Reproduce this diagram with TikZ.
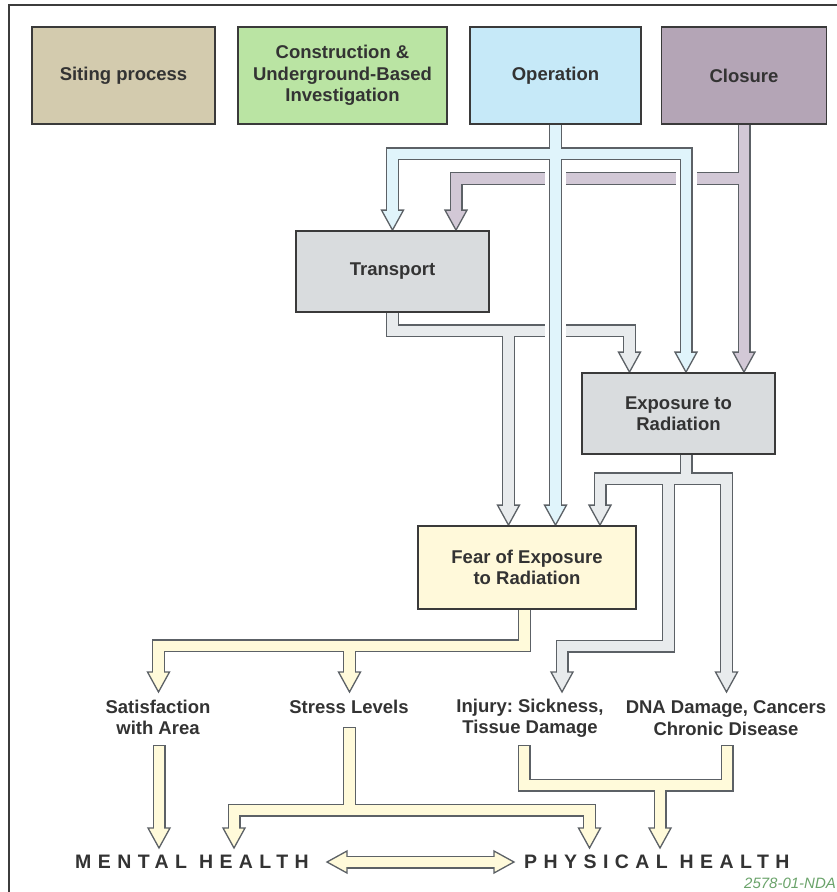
\documentclass[tikz,border=0pt]{standalone}
\usepackage{fontspec}
\setmainfont{Liberation Sans}
\usetikzlibrary{calc}
\pgfdeclarelayer{flow}
\pgfsetlayers{flow,main}
\frenchspacing

\definecolor{ink}{HTML}{333333}
\definecolor{boxline}{HTML}{3A3A3A}
\definecolor{frameline}{HTML}{3C3C3C}
\definecolor{arrline}{HTML}{5C6166}
\definecolor{sitefill}{HTML}{D3CBAE}
\definecolor{consfill}{HTML}{BAE4A3}
\definecolor{opfill}{HTML}{C6E9F8}
\definecolor{clfill}{HTML}{B4A5B6}
\definecolor{grayfill}{HTML}{D9DCDE}
\definecolor{fearfill}{HTML}{FFF9DA}
\definecolor{bflow}{HTML}{E0F4FB}
\definecolor{cflow}{HTML}{D2C8D6}
\definecolor{gflow}{HTML}{E8EBED}
\definecolor{yflow}{HTML}{FFFADA}
\definecolor{codegreen}{HTML}{6AA36A}

% Paths of the broad hollow connectors; #1 = how far the shaft stops short of its tip,
% #2 = how far the fill of a free start is inset from its outline
\newcommand\opflow[1]{(op.south) -- ($(opT1)-(0,#1)$) ($(opT2)-(0,#1)$) -- (opT2 |- opJ) -- (opT3 |- opJ) -- ($(opT3)-(0,#1)$)}
\newcommand\clflow[1]{(cl.south) -- ($(clT1)-(0,#1)$) (clJ) -- (clT2 |- clJ) -- ($(clT2)-(0,#1)$)}
\newcommand\trflow[1]{(tr.south) -- (trJ) -- (trT2 |- trJ) -- ($(trT2)-(0,#1)$) (trT1 |- trJ) -- ($(trT1)-(0,#1)$)}
\newcommand\exflow[1]{(exS) -- (exJ) ($(exT1)-(0,#1)$) -- (exT1 |- exJ) -- (exT2 |- exJ) -- ($(exT2)-(0,#1)$) (exK |- exJ) -- (exK) -- (exT3 |- exK) -- ($(exT3)-(0,#1)$)}
\newcommand\fearflow[1]{(fS) -- (fJ) -- (fT1 |- fJ) -- ($(fT1)-(0,#1)$) (fT2 |- fJ) -- ($(fT2)-(0,#1)$)}
\newcommand\satflow[2]{($(sS)+(0,#2)$) -- ($(sT)-(0,#1)$)}
\newcommand\stressflow[2]{($(stS)+(0,#2)$) -- (stJ) ($(stT1)-(0,#1)$) -- (stT1 |- stJ) -- (stT2 |- stJ) -- ($(stT2)-(0,#1)$)}
\newcommand\bodyflow[2]{($(iS)+(0,#2)$) -- (bJ) -- (dS |- bJ) -- ($(dS)+(0,#2)$) (pT |- bJ) -- ($(pT)-(0,#1)$)}
\newcommand\healthflow[1]{($(mL)+(#1,0)$) -- ($(pR)-(#1,0)$)}

\tikzset{
  box/.style={draw=boxline, line width=1.8pt, align=center, text=ink, inner sep=0pt,
    font=\bfseries\fontsize{18.5}{21.5}\selectfont},
  lab/.style={align=center, text=ink, inner sep=0pt,
    font=\bfseries\fontsize{18.5}{21.5}\selectfont},
  health/.style={anchor=west, text=ink, inner sep=0pt,
    font=\bfseries\fontsize{19.5}{22}\selectfont\addfontfeature{LetterSpace=33}},
  shaftout/.style={draw=arrline, line width=13pt, line join=miter},
  shaftin/.style={draw=#1, line width=10.4pt, line join=miter},
  gap/.style={draw=white, line width=21pt},
  headline/.style={draw=arrline, line width=1.3pt, line join=miter},
  pics/tipdown/.style={code={\path[headline, fill=#1] (0,0) -- (-11,-20) -- (11,-20) -- cycle;}},
  pics/tipleft/.style={code={\path[headline, fill=#1] (0,0) -- (20,-11) -- (20,11) -- cycle;}},
  pics/tipright/.style={code={\path[headline, fill=#1] (0,0) -- (-20,-11) -- (-20,11) -- cycle;}},
}

\begin{document}
\begin{tikzpicture}[x=1pt, y=-1pt]
\useasboundingbox (0,0) rectangle (837,892);
\clip (0,0) rectangle (837,892);

% frame
\draw[line width=1.5pt, draw=frameline] (9,892) -- (9,5) -- (837,5);

% project phases
\node[box, fill=sitefill, minimum width=183pt, minimum height=97pt] (site) at (123.5,75.5) {Siting process};
\node[box, fill=consfill, minimum width=209pt, minimum height=97pt] (cons) at (342.5,75.5) {Construction \&\\Underground-Based\\Investigation};
\node[box, fill=opfill, minimum width=171pt, minimum height=97pt] (op) at (555.5,75.5) {Operation};
\node[box, fill=clfill, minimum width=165pt, minimum height=97pt] (cl) at (744,75.5) {Closure};

% pathways
\node[box, fill=grayfill, minimum width=193pt, minimum height=81pt] (tr) at (392.5,271.5) {Transport};
\node[box, fill=grayfill, minimum width=193pt, minimum height=81pt] (ex) at (678.5,413.5) {Exposure to\\Radiation};
\node[box, fill=fearfill, minimum width=218pt, minimum height=83pt] (fear) at (527,567.5) {Fear of Exposure\\to Radiation};

% effects
\node[lab] (sat) at (158,717.5) {Satisfaction\\with Area};
\node[lab] (stress) at (349,707) {Stress Levels};
\node[lab] (inj) at (530,718) {Injury: Sickness,\\Tissue Damage};
\node[lab] (dna) at (726,718) {DNA Damage, Cancers\\Chronic Disease};
\node[health] (mental) at (75,862) {MENTAL HEALTH};
\node[health] (phys) at (524,862) {PHYSICAL HEALTH};

\node[anchor=base west, inner sep=0pt, text=codegreen, font=\itshape\fontsize{15}{18}\selectfont] (code) at (744,888) {2578-01-NDA};

% junctions and tips
\coordinate (opJ) at ($(op.south)+(0,29)$);
\coordinate (opT1) at (op.south |- fear.north);
\coordinate (opT2) at (tr.north);
\coordinate (opT3) at ($(ex.north)+(7.5,0)$);

\coordinate (clJ) at ($(cl.south)+(0,53.5)$);
\coordinate (clT1) at (cl.south |- ex.north);
\coordinate (clT2) at ($(tr.north)+(63.5,0)$);

\coordinate (trJ) at ($(tr.south)+(0,18)$);
\coordinate (trT1) at ($(fear.north)+(-18.5,0)$);
\coordinate (trT2) at ($(ex.north)+(-49,0)$);

\coordinate (exS) at ($(ex.south)+(7.5,0)$);
\coordinate (exJ) at ($(exS)+(0,24)$);
\coordinate (exT1) at ($(fear.north)+(73,0)$);
\coordinate (exK) at (668.5,646);
\coordinate (exT2) at (726.5,692);
\coordinate (exT3) at (562,692);

\coordinate (fS) at ($(fear.south)+(-2.5,0)$);
\coordinate (fJ) at ($(fS)+(0,36)$);
\coordinate (fT1) at (158.5,692);
\coordinate (fT2) at (349.5,692);

\coordinate (sS) at (159,745);
\coordinate (sT) at (159,848);
\coordinate (stS) at (349.5,727);
\coordinate (stJ) at (349.5,810);
\coordinate (stT1) at (234,848);
\coordinate (stT2) at (589.5,848);
\coordinate (iS) at (524,745);
\coordinate (dS) at (727,745);
\coordinate (bJ) at (524,785);
\coordinate (pT) at (660,848);
\coordinate (mL) at (327,862);
\coordinate (pR) at (514,862);

\begin{pgfonlayer}{flow}
  % closure
  \draw[shaftout] \clflow{20};
  \pic at (clT1) {tipdown=cflow};
  \pic at (clT2) {tipdown=cflow};
  \draw[shaftin=cflow] \clflow{18.5};

  % transport
  \draw[shaftout] \trflow{20};
  \pic at (trT1) {tipdown=gflow};
  \pic at (trT2) {tipdown=gflow};
  \draw[shaftin=gflow] \trflow{18.5};

  % operation, passing over the others
  \draw[gap] ($(op.south)+(0,40)$) -- ($(opT1)-(0,40)$);
  \draw[gap] ($(opT3 |- opJ)+(0,12)$) -- ($(opT3)-(0,40)$);
  \draw[shaftout] \opflow{20};
  \pic at (opT1) {tipdown=bflow};
  \pic at (opT2) {tipdown=bflow};
  \pic at (opT3) {tipdown=bflow};
  \draw[shaftin=bflow] \opflow{18.5};

  % exposure
  \draw[shaftout] \exflow{20};
  \pic at (exT1) {tipdown=gflow};
  \pic at (exT2) {tipdown=gflow};
  \pic at (exT3) {tipdown=gflow};
  \draw[shaftin=gflow] \exflow{18.5};

  % fear
  \draw[shaftout] \fearflow{20};
  \pic at (fT1) {tipdown=yflow};
  \pic at (fT2) {tipdown=yflow};
  \draw[shaftin=yflow] \fearflow{18.5};

  % effects to health
  \draw[shaftout] \satflow{20}{0};
  \pic at (sT) {tipdown=yflow};
  \draw[shaftin=yflow] \satflow{18.5}{1.3};

  \draw[shaftout] \stressflow{20}{0};
  \pic at (stT1) {tipdown=yflow};
  \pic at (stT2) {tipdown=yflow};
  \draw[shaftin=yflow] \stressflow{18.5}{1.3};

  \draw[shaftout] \bodyflow{20}{0};
  \pic at (pT) {tipdown=yflow};
  \draw[shaftin=yflow] \bodyflow{18.5}{1.3};

  \draw[shaftout] \healthflow{20};
  \pic at (mL) {tipleft=yflow};
  \pic at (pR) {tipright=yflow};
  \draw[shaftin=yflow] \healthflow{18.5};
\end{pgfonlayer}
\end{tikzpicture}
\end{document}
